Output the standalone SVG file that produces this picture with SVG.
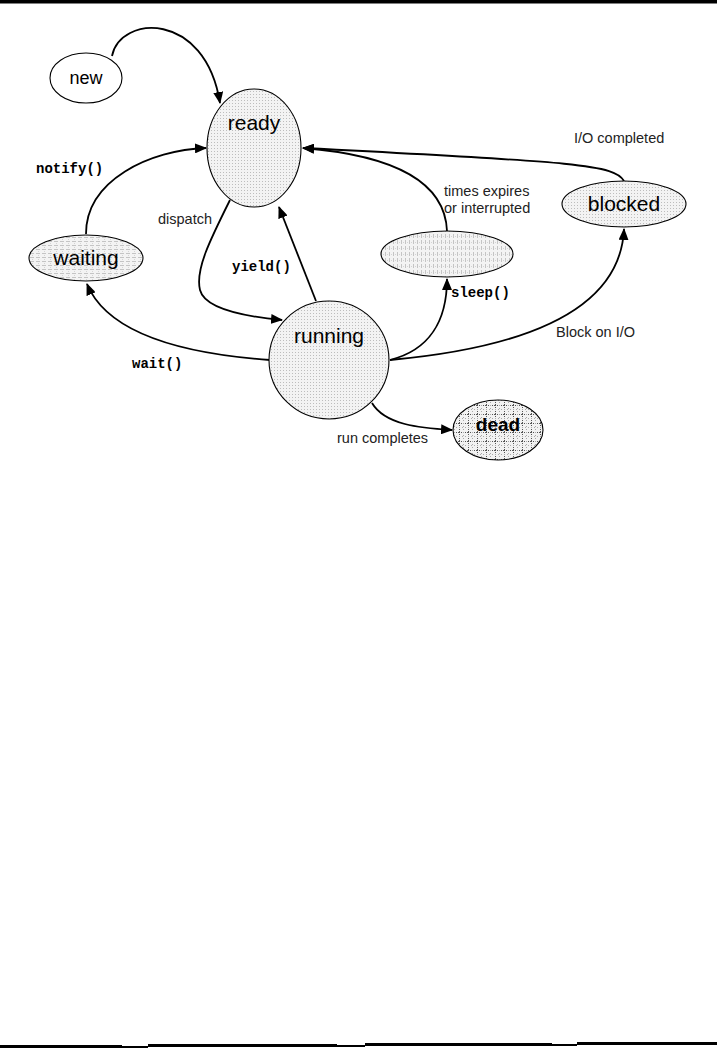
<svg xmlns="http://www.w3.org/2000/svg" width="717" height="1049" viewBox="0 0 717 1049">
<defs>
<pattern id="dots" width="3" height="3" patternUnits="userSpaceOnUse">
<rect width="3" height="3" fill="#f3f3f3"/>
<rect x="1" y="1" width="1" height="1" fill="#bdbdbd"/>
</pattern>
<pattern id="hdash" width="6" height="4" patternUnits="userSpaceOnUse">
<rect width="6" height="4" fill="#f3f3f3"/>
<rect x="0" y="1" width="4" height="1" fill="#c4c4c4"/>
<rect x="2" y="3" width="1" height="1" fill="#d4d4d4"/>
</pattern>
<pattern id="vdash" width="4" height="6" patternUnits="userSpaceOnUse">
<rect width="4" height="6" fill="#f3f3f3"/>
<rect x="1" y="0" width="1" height="4" fill="#c4c4c4"/>
<rect x="3" y="2" width="1" height="1" fill="#d4d4d4"/>
</pattern>
<pattern id="grid" width="9" height="9" patternUnits="userSpaceOnUse">
<rect width="9" height="9" fill="#f2f2f2"/>
<path d="M0,0.5 H9 M0.5,0 V9" stroke="#555" stroke-width="1" stroke-dasharray="1,1"/>
<path d="M0,4.5 H9 M4.5,0 V9" stroke="#aaa" stroke-width="1" stroke-dasharray="1,2"/>
</pattern>
<marker id="arr" markerWidth="12" markerHeight="10" refX="11" refY="5" orient="auto" markerUnits="userSpaceOnUse">
<path d="M0,0 L12,5 L0,10 Z" fill="#000"/>
</marker>
</defs>
<style>
.node{stroke:#000;stroke-width:1.1}
.edge{fill:none;stroke:#000;stroke-width:1.8;marker-end:url(#arr)}
.lbl{font-family:"Liberation Sans",Arial,sans-serif;font-size:21px;fill:#000;text-anchor:middle}
.elbl{font-family:"Liberation Sans",Arial,sans-serif;font-size:14.5px;fill:#222}
.code{font-family:"Liberation Mono","Courier New",monospace;font-size:14px;font-weight:bold;fill:#000}
</style>
<rect x="0" y="0" width="717" height="3.5" fill="#000"/>
<g id="bottom-rule" fill="#000">
<rect x="0" y="1045" width="122" height="3"/>
<rect x="122" y="1046" width="26" height="2"/>
<rect x="148" y="1044" width="189" height="3"/>
<rect x="337" y="1045" width="28" height="2"/>
<rect x="365" y="1043" width="187" height="3"/>
<rect x="552" y="1044" width="25" height="2"/>
<rect x="577" y="1042" width="140" height="3"/>
</g>
<g id="connectors">
<path class="edge" d="M112,56 C120,15 205,10 220,103"/>
<path class="edge" d="M86,234 C86,180 150,150 206,148"/>
<path class="edge" d="M230,200 C210,240 195,270 200,290 C205,310 250,317 282,320"/>
<path class="edge" d="M316,301 L279,207"/>
<path class="edge" d="M270,360 C200,355 110,340 87,284"/>
<path class="edge" d="M447,231 C445,180 390,155 303,148"/>
<path class="edge" d="M624,181 C615,165 580,162 303,148"/>
<path class="edge" d="M390,360 C430,350 447,320 447,279"/>
<path class="edge" d="M390,360 C500,350 620,320 624,229"/>
<path class="edge" d="M372,403 C385,425 420,428 452,430"/>
</g>
<g id="edge-labels">
<text class="code" x="36" y="173">notify()</text>
<text class="elbl" x="158" y="224">dispatch</text>
<text class="code" x="232" y="271">yield()</text>
<text class="code" x="132" y="368">wait()</text>
<text class="elbl" x="444" y="196">times expires</text>
<text class="elbl" x="444" y="213">or interrupted</text>
<text class="elbl" x="574" y="143">I/O completed</text>
<text class="code" x="451" y="297">sleep()</text>
<text class="elbl" x="556" y="337">Block on I/O</text>
<text class="elbl" x="337" y="443">run completes</text>
</g>
<g id="new">
<ellipse class="node" cx="86" cy="78" rx="36" ry="25" fill="#fff"/>
<text class="lbl" x="86" y="84" style="font-size:18px">new</text>
</g>
<g id="ready">
<ellipse class="node" cx="254" cy="148" rx="47" ry="59" fill="url(#dots)"/>
<text class="lbl" x="254" y="130">ready</text>
</g>
<g id="waiting">
<ellipse class="node" cx="86" cy="258" rx="57" ry="23" fill="url(#hdash)"/>
<text class="lbl" x="86" y="265">waiting</text>
</g>
<g id="running">
<ellipse class="node" cx="329" cy="360" rx="60" ry="59" fill="url(#dots)"/>
<text class="lbl" x="329" y="343">running</text>
</g>
<g id="sleeping">
<ellipse class="node" cx="447" cy="254" rx="66" ry="23" fill="url(#vdash)"/>
</g>
<g id="blocked">
<ellipse class="node" cx="624" cy="204" rx="62" ry="23" fill="url(#dots)"/>
<text class="lbl" x="624" y="211">blocked</text>
</g>
<g id="dead">
<ellipse class="node" cx="498" cy="430" rx="45" ry="30" fill="url(#grid)"/>
<text class="lbl" x="498" y="431" style="font-size:19px;font-weight:bold">dead</text>
</g>
</svg>
